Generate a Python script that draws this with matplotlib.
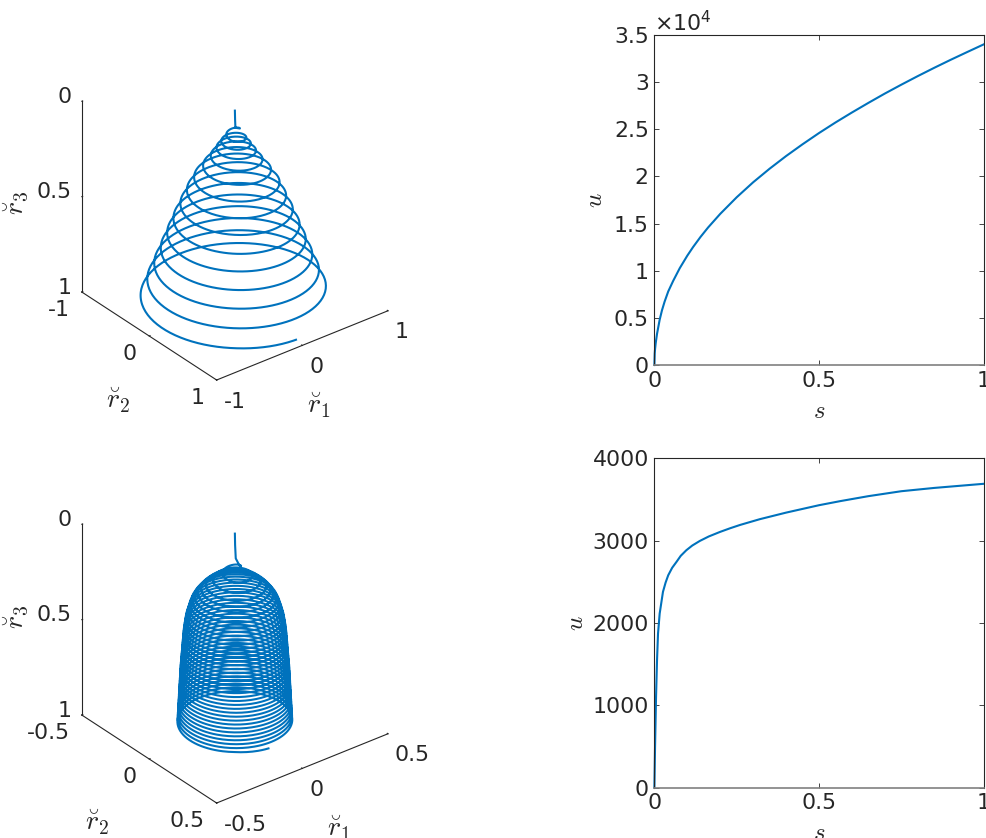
import numpy as np
import matplotlib
matplotlib.use('Agg')
import matplotlib.pyplot as plt
from matplotlib.transforms import Affine2D

W, H = 986, 838
BLUE = '#0072BD'
DARK = '#262626'

# curve 1: helix, height and radius read at each front crossing of a turn
top_tail_r3 = [0.0, 0.05, 0.09, 0.094]
top_tail_rad = [0.0, 0.002, 0.005, 0.045]
top_turns = [0.25, 1, 2, 3, 4, 5, 6, 7, 8, 9, 10, 11, 12, 13, 14, 14.11]
top_r3 = [0.094, 0.135, 0.165, 0.2, 0.245, 0.297, 0.36, 0.43, 0.5, 0.58,
          0.656, 0.736, 0.816, 0.9, 0.987, 1.0]
top_rad = [0.045, 0.095, 0.135, 0.18, 0.235, 0.31, 0.395, 0.455, 0.515, 0.58,
           0.635, 0.695, 0.755, 0.82, 0.88, 0.885]

# curve 2
bot_tail_r3 = [0.0, 0.06, 0.13, 0.165, 0.172]
bot_tail_rad = [0.0, 0.001, 0.004, 0.02, 0.027]
bot_r3 = [0.215, 0.245, 0.27, 0.29, 0.31, 0.33, 0.35, 0.37, 0.39, 0.41,
          0.43, 0.45, 0.47, 0.49, 0.51, 0.53, 0.55, 0.57, 0.59, 0.61,
          0.63, 0.65, 0.67, 0.69, 0.71, 0.73, 0.75, 0.77, 0.79, 0.81,
          0.83, 0.85, 0.87, 0.89, 0.91, 0.93, 0.95, 0.97, 0.99]
bot_rad = [0.07, 0.11, 0.14, 0.16, 0.175, 0.19, 0.2, 0.207, 0.213, 0.218,
           0.224, 0.227, 0.23, 0.233, 0.235, 0.237, 0.238, 0.24, 0.241, 0.243,
           0.244, 0.246, 0.247, 0.249, 0.25, 0.251, 0.252, 0.253, 0.254, 0.255,
           0.256, 0.257, 0.258, 0.259, 0.26, 0.261, 0.262, 0.263, 0.264]

# u(s) curves
top_s = [0, 0.001, 0.002, 0.004, 0.008, 0.016, 0.023, 0.031, 0.042, 0.057, 0.077, 0.1, 0.1175,
         0.14, 0.163, 0.2, 0.25, 0.3, 0.35, 0.4, 0.45, 0.5, 0.55, 0.6, 0.65, 0.7, 0.75, 0.8,
         0.85, 0.9, 0.95, 1]
top_u = [0, 1230, 1690, 2330, 3310, 4800, 5800, 6720, 7800, 8920, 10270, 11600, 12510,
         13580, 14580, 16030, 17790, 19380, 20820, 22160, 23410, 24600, 25720, 26780, 27800, 28790,
         29730, 30640, 31520, 32370, 33190, 34000]
bot_s = [0, 0.0008, 0.002, 0.0035, 0.005, 0.008, 0.011, 0.016, 0.026, 0.034, 0.042, 0.054,
         0.067, 0.08, 0.097, 0.115, 0.138, 0.165, 0.199, 0.23, 0.26, 0.32, 0.4, 0.5, 0.565,
         0.65, 0.75, 0.85, 1]
bot_u = [0, 200, 500, 800, 1100, 1550, 1870, 2113, 2377, 2490, 2579, 2670,
         2741, 2815, 2883, 2940, 2996, 3050, 3105, 3150, 3190, 3260, 3340, 3430, 3480,
         3540, 3600, 3640, 3690]

plt.rcParams['font.size'] = 15.8
plt.rcParams['text.color'] = DARK
plt.rcParams['axes.labelcolor'] = DARK


def axes_px(fig, left, top, right, bottom, **kw):
    return fig.add_axes([left / W, 1 - bottom / H, (right - left) / W, (bottom - top) / H], **kw)


def helix(turns, r3, rad, tail_r3, tail_rad):
    # geometry only: the angle runs with the turn count, heights and radii come from the lists
    t = np.linspace(turns[0], turns[-1], int((turns[-1] - turns[0]) * 180))
    z = np.interp(t, turns, r3)
    rr = np.interp(t, turns, rad)
    psi = np.radians(128.5) - 2 * np.pi * t
    hook = np.radians(128.5) - 2 * np.pi * turns[0]
    x = np.r_[np.array(tail_rad) * np.cos(hook), rr * np.cos(psi)]
    y = np.r_[np.array(tail_rad) * np.sin(hook), rr * np.sin(psi)]
    return x, y, np.r_[tail_r3, z]


def shift(ax, text, dx, dy):
    # dx, dy in pixels, y down like in the picture
    # Axis3D resets the transform when it draws, so it is set again just before the text draws
    off = Affine2D().translate(dx, -dy)
    orig = text.draw

    def draw(renderer):
        text.set_transform(ax.transData + off)
        orig(renderer)
    text.draw = draw


def draw_3d(ax, x, y, z, lim, ticks, xlab_off, ylab_off, zlab_off):
    ax.plot(x, y, z, color=BLUE, lw=1.5)
    ax.set_proj_type('ortho')
    ax.set_box_aspect((1, 1, 1.02))
    ax.view_init(elev=30.9, azim=-128.2)
    ax.set_xlim(-lim, lim)
    ax.set_ylim(lim, -lim)
    ax.set_zlim(1, 0)
    ax.set_xticks(ticks)
    ax.set_yticks(ticks)
    ax.set_zticks([0, 0.5, 1])
    ax.set_xticklabels([f'{v:g}' for v in ticks])
    ax.set_yticklabels([f'{v:g}' for v in ticks])
    ax.set_zticklabels(['0', '0.5', '1'])
    ax.grid(False)
    ax.patch.set_alpha(0)
    for a in (ax.xaxis, ax.yaxis, ax.zaxis):
        a.set_pane_color((1, 1, 1, 0))
        a.pane.set_edgecolor((1, 1, 1, 0))
        a.line.set_color(DARK)
        a.line.set_linewidth(0.8)
        a._axinfo['tick']['inward_factor'] = 0.0
        a._axinfo['tick']['outward_factor'] = 0.06
        a._axinfo['tick']['color'] = DARK
    ax.tick_params(colors=DARK, pad=2)
    for lab in ax.get_xticklabels():
        lab.set_ha('left')
        shift(ax, lab, -3, -8.5)
    for lab in ax.get_yticklabels():
        lab.set_ha('right')
        shift(ax, lab, 0, -10.5)
    for lab in ax.get_zticklabels():
        lab.set_ha('right')
        shift(ax, lab, 11.5, -13)
    ax.xaxis.set_rotate_label(False)
    ax.yaxis.set_rotate_label(False)
    ax.zaxis.set_rotate_label(False)
    ax.set_xlabel(r'$\breve{r}_1$', math_fontfamily='cm', fontsize=20, rotation=0)
    ax.set_ylabel(r'$\breve{r}_2$', math_fontfamily='cm', fontsize=20, rotation=0)
    ax.set_zlabel(r'$\breve{r}_3$', math_fontfamily='cm', fontsize=20, rotation=90)
    shift(ax, ax.xaxis.label, *xlab_off)
    shift(ax, ax.yaxis.label, *ylab_off)
    shift(ax, ax.zaxis.label, *zlab_off)


def draw_2d(ax, s, u, ymax, yticks, ylabels, ypad):
    ax.plot(s, u, color=BLUE, lw=1.5, clip_on=False)
    ax.set_xlim(0, 1)
    ax.set_ylim(0, ymax)
    ax.set_xticks([0, 0.5, 1])
    ax.set_xticklabels(['0', '0.5', '1'])
    ax.set_yticks(yticks)
    ax.set_yticklabels(ylabels)
    ax.tick_params(direction='in', length=3.3, width=0.6, top=True, right=True,
                   color=DARK, labelcolor=DARK, pad=4)
    for sp in ax.spines.values():
        sp.set_color(DARK)
        sp.set_linewidth(0.8)
    ax.spines['bottom'].set_color('#808080')
    ax.spines['bottom'].set_linewidth(1.2)
    ax.set_xlabel('$s$', math_fontfamily='cm', fontsize=18, labelpad=6)
    ax.set_ylabel('$u$', math_fontfamily='cm', fontsize=18, labelpad=ypad)


fig = plt.figure(figsize=(W / 100, H / 100), dpi=100)

ax1 = axes_px(fig, 45.4, 26.5, 414.4, 395.5, projection='3d')
draw_3d(ax1, *helix(top_turns, top_r3, top_rad, top_tail_r3, top_tail_rad), 1, [-1, 0, 1],
        (-8, 10), (0, 17), (-11, 9))

bot_turns = [1 + i for i in range(len(bot_r3))]
bot_turns_all = [0.25] + bot_turns + [bot_turns[-1] + 0.1]
bot_r3_all = [bot_tail_r3[-1]] + bot_r3 + [1.0]
bot_rad_all = [bot_tail_rad[-1]] + bot_rad + [0.264]
ax3 = axes_px(fig, 45.4, 449.5, 414.4, 818.5, projection='3d')
draw_3d(ax3, *helix(bot_turns_all, bot_r3_all, bot_rad_all, bot_tail_r3, bot_tail_rad), 0.5, [-0.5, 0, 0.5],
        (12, 10), (-21, 16), (-11, 0))

ax2 = axes_px(fig, 654.4, 35, 983.6, 365)
draw_2d(ax2, top_s, top_u, 35000, [0, 5000, 10000, 15000, 20000, 25000, 30000, 35000],
        ['0', '0.5', '1', '1.5', '2', '2.5', '3', '3.5'], 5)
ax2.text(0.0, 1.0, r'$\times 10^{4}$', transform=ax2.transAxes, ha='left', va='bottom', color=DARK)

ax4 = axes_px(fig, 654.4, 458.3, 983.6, 787.5)
draw_2d(ax4, bot_s, bot_u, 4000, [0, 1000, 2000, 3000, 4000], ['0', '1000', '2000', '3000', '4000'], 3)

fig.savefig('out.png', dpi=100)
